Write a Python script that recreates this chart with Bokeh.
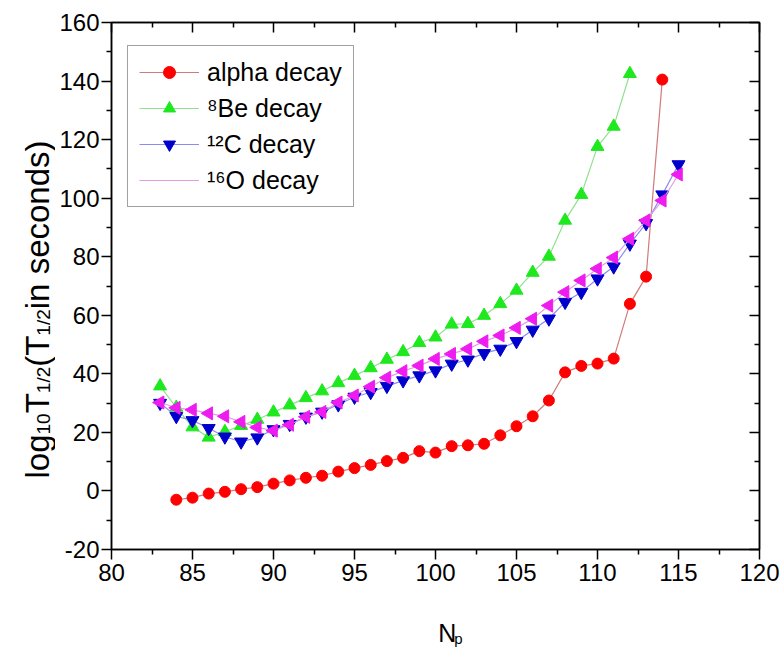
import math
from bokeh.plotting import figure
from bokeh.layouts import row, column
from bokeh.models import (ColumnDataSource, FixedTicker, LinearAxis, Legend,
                          LegendItem, Range1d)
from bokeh.core.properties import value
from bokeh.embed import file_html
from bokeh.resources import INLINE

# Proton number ranges for each decay mode
np_alpha = list(range(84, 115))
np_cluster = list(range(83, 116))
np_be = list(range(83, 113))

# log10 of half-life (seconds)
alpha_decay = [-3.0, -2.3, -0.9, -0.3, 0.6, 1.3, 2.5, 3.6, 4.5, 5.2, 6.6, 7.8,
               8.9, 10.2, 11.3, 13.6, 13.1, 15.3, 15.6, 16.1, 19.0, 22.1, 25.5,
               30.9, 40.5, 42.7, 43.5, 45.2, 63.9, 73.2, 140.5]
be8_decay = [35.8, 28.5, 21.8, 18.3, 20.2, 22.3, 24.4, 26.9, 29.3, 31.8, 34.1,
             36.9, 39.4, 42.0, 44.9, 47.5, 50.6, 52.5, 56.9, 57.1, 59.9, 63.9,
             68.5, 74.6, 80.1, 92.4, 101.2, 117.6, 124.5, 142.5]
c12_decay = [30.0, 25.5, 24.1, 21.4, 18.5, 16.8, 18.2, 21.0, 22.8, 25.3, 27.0,
             29.5, 32.1, 33.7, 35.8, 37.7, 39.4, 41.1, 43.4, 44.8, 47.0, 48.5,
             51.1, 55.0, 58.8, 64.5, 67.9, 72.5, 76.6, 84.4, 91.4, 101.2, 111.5]
o16_decay = [30.2, 28.4, 27.7, 26.5, 25.5, 23.6, 21.7, 20.6, 22.6, 25.3, 27.0,
             30.2, 32.6, 35.6, 38.7, 40.9, 42.8, 45.1, 46.8, 48.5, 51.1, 53.1,
             55.7, 58.8, 63.3, 67.9, 71.9, 75.9, 79.7, 86.1, 92.4, 99.2, 108.1]

series_names = ["alpha decay", "\u2078Be decay", "\u00b9\u00b2C decay",
                "\u00b9\u2076O decay"]

x_major = [80, 85, 90, 95, 100, 105, 110, 115, 120]
x_minor = [82.5, 87.5, 92.5, 97.5, 102.5, 107.5, 112.5, 117.5]
y_major = [-20, 0, 20, 40, 60, 80, 100, 120, 140, 160]
y_minor = [-10, 10, 30, 50, 70, 90, 110, 130, 150]

FONT = "Liberation Sans"
LEFT_W = 55          # strip holding the y-axis title
BOTTOM_H = 52        # strip holding the x-axis title
TOTAL_W, TOTAL_H = 784, 651
FRAME_L, FRAME_R, FRAME_T, FRAME_B = 111, 759, 22, 549
FRAME_W, FRAME_H = FRAME_R - FRAME_L, FRAME_B - FRAME_T

# ---------------------------------------------------------------- main plot
p = figure(width=TOTAL_W - LEFT_W, height=TOTAL_H - BOTTOM_H,
           x_range=Range1d(80, 120), y_range=Range1d(-20, 160),
           output_backend="svg", toolbar_location=None,
           min_border_left=FRAME_L - LEFT_W,
           min_border_right=TOTAL_W - FRAME_R,
           min_border_top=FRAME_T,
           min_border_bottom=TOTAL_H - BOTTOM_H - FRAME_B)
p.background_fill_color = "white"
p.border_fill_color = "white"
p.outline_line_color = "black"
p.outline_line_width = 1.5
p.xgrid.visible = False
p.ygrid.visible = False

# pixel-based ranges over the frame, used to place the legend key marker
p.extra_x_ranges = {"px": Range1d(0, FRAME_W)}
p.extra_y_ranges = {"px": Range1d(0, FRAME_H)}

xt = FixedTicker(ticks=x_major, minor_ticks=x_minor)
yt = FixedTicker(ticks=y_major, minor_ticks=y_minor)

for ax, tk in ((p.xaxis[0], xt), (p.yaxis[0], yt)):
    ax.ticker = tk
    ax.axis_line_width = 1.5
    ax.major_tick_line_width = 1.5
    ax.minor_tick_line_width = 1.5
    ax.major_tick_out = 10
    ax.major_tick_in = 0
    ax.minor_tick_out = 5
    ax.minor_tick_in = 0
    ax.major_label_text_font = FONT
    ax.major_label_text_font_size = "24px"
    ax.major_label_text_color = "black"
    ax.major_label_standoff = 4
p.yaxis[0].major_label_standoff = 2
p.yaxis[0].major_label_overrides = {-20: "-20"}

# mirrored axes on top and right, ticks pointing inward, no labels
for side, tk in (("above", xt), ("right", yt)):
    ax = LinearAxis(ticker=tk, axis_line_width=1.5, major_tick_line_width=1.5,
                    minor_tick_line_width=1.5, major_tick_in=10,
                    major_tick_out=0, minor_tick_in=5, minor_tick_out=0,
                    major_label_text_font_size="8px",
                    major_label_text_color=None, major_label_standoff=0)
    p.add_layout(ax, side)

series = [
    (np_alpha, alpha_decay, "circle", 0.0, 11, "#ff0000", "#d07a7a"),
    (np_be, be8_decay, "triangle", 0.0, 13, "#1ee81e", "#8fe08f"),
    (np_cluster, c12_decay, "inverted_triangle", 0.0, 13, "#0000cc",
     "#8c8cf0"),
    # left-pointing triangles: the up triangle turned a quarter turn
    (np_cluster, o16_decay, "triangle", 90.0, 13, "#ee1cee", "#e39be3"),
]

# legend geometry
LEG_X, LEG_Y = 16, 342          # bottom-left offset from the frame corner
LEG_PAD, LEG_SPACE, ROW_H, GLYPH_W = 11, 6, 30, 60

items = []
for (xs, ys, marker, ang, size, col, lcol), name in zip(series, series_names):
    src = ColumnDataSource(dict(x=xs, y=ys, a=[ang] * len(xs)))
    lr = p.line("x", "y", source=src, line_color=lcol, line_width=1.2)
    sr = p.scatter("x", "y", source=src, marker=marker, angle="a",
                   angle_units="deg", size=size,
                   fill_color=col, line_color=col)
    if ang == 0.0:
        items.append(LegendItem(label=name, renderers=[lr, sr]))
    else:
        # legend keys are drawn unrotated, so the turned marker is added
        # on top of the key's line separately
        items.append(LegendItem(label=name, renderers=[lr]))
        k = len(items) - 1
        n_items = len(series)
        leg_h = 2 * LEG_PAD + n_items * ROW_H + (n_items - 1) * LEG_SPACE
        key = ColumnDataSource(dict(
            x=[LEG_X + LEG_PAD + GLYPH_W / 2],
            y=[LEG_Y + leg_h - LEG_PAD - ROW_H / 2 - k * (ROW_H + LEG_SPACE)],
            a=[ang]))
        p.scatter("x", "y", source=key, marker=marker, angle="a",
                  angle_units="deg", size=0.4 * ROW_H, fill_color=col,
                  line_color=col, x_range_name="px", y_range_name="px",
                  level="overlay")

legend = Legend(items=items, location=(LEG_X, LEG_Y), padding=LEG_PAD,
                spacing=LEG_SPACE, glyph_width=GLYPH_W, glyph_height=ROW_H,
                label_height=ROW_H, label_standoff=8, label_text_font=FONT,
                label_text_font_size="25px", label_text_color="black",
                label_text_baseline="middle",
                border_line_color="#444444", border_line_width=1.2,
                background_fill_color="white", background_fill_alpha=1.0,
                margin=0)
p.add_layout(legend, "center")


def text_strip(width, height):
    """A bare figure whose data units are pixels, used to hold titles."""
    f = figure(width=width, height=height, x_range=Range1d(0, width),
               y_range=Range1d(0, height), output_backend="svg",
               toolbar_location=None, x_axis_location=None,
               y_axis_location=None, min_border=0)
    f.outline_line_color = None
    f.xgrid.visible = False
    f.ygrid.visible = False
    f.background_fill_color = "white"
    f.border_fill_color = "white"
    return f


# Arial-like advance widths (em) for laying out the title pieces
W = {"l": .222, "o": .556, "g": .556, "1": .556, "0": .556, "T": .611,
     "/": .278, "2": .556, "(": .333, " ": .278, "i": .222, "n": .556,
     "s": .5, "e": .556, "c": .5, "d": .556, ")": .333, "N": .722, "p": .556}


def width(t, size):
    return sum(W.get(ch, .556) for ch in t) * size


# ------------------------------------------------- y-axis title (vertical)
ly = text_strip(LEFT_W, TOTAL_H)
BIG, SUB, SUB_SHIFT = 33, 19, 6
pieces = [("log", BIG, 0), ("10", SUB, SUB_SHIFT), ("T", BIG, 0),
          ("1/2", SUB, SUB_SHIFT), ("(T", BIG, 0), ("1/2", SUB, SUB_SHIFT),
          (" in seconds)", BIG, 0)]
base_x = 37
pos = TOTAL_H - 478
for txt, size, shift in pieces:
    ly.text(x=[base_x + shift], y=[pos], text=[txt], angle=math.pi / 2,
            text_font=value(FONT), text_font_size=value(f"{size}px"),
            text_color="black", text_baseline="alphabetic",
            text_align="left")
    pos += width(txt, size)

# ----------------------------------------------- x-axis title N with sub p
lx = text_strip(TOTAL_W - LEFT_W, BOTTOM_H)
n_left = 422.5 - LEFT_W
lx.text(x=[n_left], y=[TOTAL_H - 632], text=["N"], text_font=value(FONT),
        text_font_size=value("25px"), text_color="black",
        text_baseline="alphabetic", text_align="left")
lx.text(x=[n_left + width("N", 25)], y=[TOTAL_H - 638], text=["p"],
        text_font=value(FONT), text_font_size=value("15px"),
        text_color="black", text_baseline="alphabetic", text_align="left")

layout = row(ly, column(p, lx, spacing=0), spacing=0)

open("out.html", "w").write(file_html(layout, INLINE))
